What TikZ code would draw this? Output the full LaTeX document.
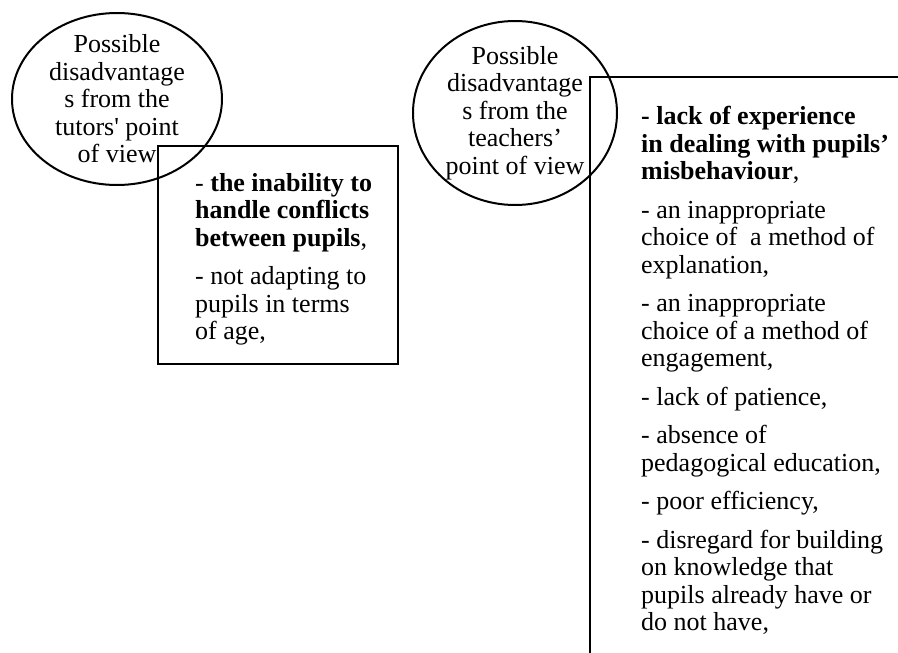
\documentclass[tikz,border=0pt]{standalone}
\usepackage{fontspec}
\setmainfont{Liberation Serif}[Ligatures=TeXOff]
\usetikzlibrary{positioning}
\begin{document}
\begin{tikzpicture}
[
    x=1pt, y=-1pt,
    every node/.style={font=\fontsize{26}{27.5}\selectfont, inner sep=0pt},
    oval/.style={align=center},
    listing/.style={align=left},
    frame/.style={draw, line width=2pt, anchor=north west},
]
\useasboundingbox (0,0) rectangle (898,653);
\clip (0,0) rectangle (898,653);
\node[oval] (tutorsview) at (117,99) {Possible\\disadvantage\\s from the\\tutors' point\\of view};
\draw[line width=2pt] (tutorsview.center) ellipse [x radius=105, y radius=86];
\node[oval] (teachersview) at (515,113) {Possible\\disadvantage\\s from the\\teachers’\\point of view};
\draw[line width=2pt] (teachersview.center) ellipse [x radius=102, y radius=92];
\node[frame, minimum width=240pt, minimum height=218pt] (tutorsbox) at (157,145) {};
\node[listing, below right=28pt and 38pt of tutorsbox.north west] (tutorslist)
    {- \textbf{the inability to}\\\textbf{handle conflicts}\\\textbf{between pupils},\\[11pt]
     - not adapting to\\pupils in terms\\of age,};
\node[frame, minimum width=340pt, minimum height=600pt] (teachersbox) at (589,76) {};
\node[listing, below right=30pt and 52pt of teachersbox.north west] (teacherslist)
    {\textbf{- lack of experience}\\\textbf{in dealing with pupils’}\\\textbf{misbehaviour},\\[11pt]
     - an inappropriate\\choice of\ \ a method of\\explanation,\\[11pt]
     - an inappropriate\\choice of a method of\\engagement,\\[11pt]
     - lack of patience,\\[11pt]
     - absence of\\pedagogical education,\\[11pt]
     - poor efficiency,\\[11pt]
     - disregard for building\\on knowledge that\\pupils already have or\\do not have,};
\end{tikzpicture}
\end{document}
